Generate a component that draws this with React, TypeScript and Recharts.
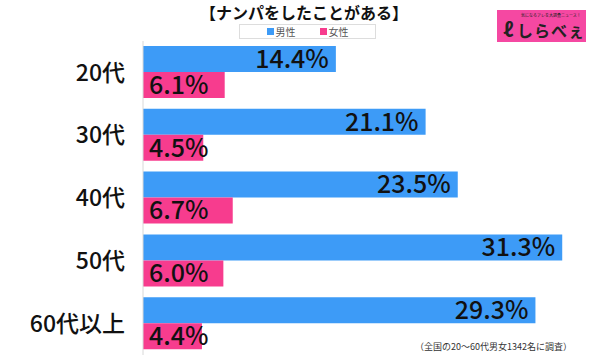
import { BarChart, Bar, XAxis, YAxis, LabelList } from "recharts";

const categories = ["20代", "30代", "40代", "50代", "60代以上"];
const male = [14.4, 21.1, 23.5, 31.3, 29.3];
const female = [6.1, 4.5, 6.7, 6.0, 4.4];
const seriesNames = ["男性", "女性"];

const data = categories.map((c, i) => ({ name: c, male: male[i], female: female[i] }));

const FONT = '"Noto Sans CJK JP", "Noto Sans", sans-serif';
const BLUE = "#3d9bf7";
const PINK = "#f73c8e";

const fmt = (v: number) => v.toFixed(1) + "%";

export default function App() {
  return (
    <div style={{ position: "absolute", left: 0, top: 0, width: 600, height: 360, background: "#fff", fontFamily: FONT }}>
      <div
        style={{
          position: "absolute",
          left: 4,
          width: 600,
          top: 3,
          height: 18,
          lineHeight: "18px",
          textAlign: "center",
          fontSize: 16,
          fontWeight: 700,
          color: "#111",
        }}
      >
        【ナンパをしたことがある】
      </div>
      <div
        style={{
          position: "absolute",
          left: 239,
          top: 24,
          width: 137,
          height: 15,
          border: "1px solid #ddd",
          boxSizing: "border-box",
          fontSize: 10,
          lineHeight: "13px",
          color: "#555",
          display: "flex",
          justifyContent: "center",
          alignItems: "center",
          gap: 24,
        }}
      >
        {seriesNames.map((s, i) => (
          <div key={s} style={{ display: "flex", alignItems: "center" }}>
            <div style={{ width: 7, height: 7, background: i === 0 ? BLUE : PINK, marginRight: 2 }} />
            <span>{s}</span>
          </div>
        ))}
      </div>
      <div
        style={{
          position: "absolute",
          left: 497,
          top: 10,
          width: 89,
          height: 32,
          background: "#f548a2",
          color: "#222",
        }}
      >
        <div style={{ position: "absolute", left: 24, top: 3, fontSize: 4, lineHeight: "5px", whiteSpace: "nowrap" }}>
          気になるアレを大調査ニュース！
        </div>
        <div style={{ position: "absolute", left: 6, top: 8, fontSize: 20, lineHeight: "22px", fontWeight: 700 }}>ℓ</div>
        <div style={{ position: "absolute", left: 20, top: 10, fontSize: 16, lineHeight: "20px", fontWeight: 700, letterSpacing: 1 }}>
          しらべぇ
        </div>
      </div>
      <BarChart
        width={600}
        height={360}
        data={data}
        layout="vertical"
        margin={{ top: 41, right: 15, bottom: 5, left: 0 }}
        barSize={26}
        barGap={0}
      >
        <XAxis type="number" domain={[0, 33]} hide />
        <YAxis
          type="category"
          dataKey="name"
          width={143}
          tickLine={false}
          tickSize={0}
          tickMargin={18}
          axisLine={{ stroke: "#d8d8d8" }}
          tick={{ fontSize: 23, fill: "#111", fontFamily: FONT, fontWeight: 500 }}
        />
        <Bar dataKey="male" fill={BLUE} isAnimationActive={false}>
          <LabelList dataKey="male" position="insideRight" offset={7} formatter={fmt} style={{ fontSize: 25, fill: "#111", fontFamily: FONT, fontWeight: 500 }} />
        </Bar>
        <Bar dataKey="female" fill={PINK} isAnimationActive={false}>
          <LabelList dataKey="female" position="insideLeft" offset={6} formatter={fmt} style={{ fontSize: 25, fill: "#111", fontFamily: FONT, fontWeight: 500 }} />
        </Bar>
      </BarChart>
      <div style={{ position: "absolute", right: 28, top: 340, fontSize: 9, color: "#333" }}>
        （全国の20～60代男女1342名に調査）
      </div>
    </div>
  );
}
